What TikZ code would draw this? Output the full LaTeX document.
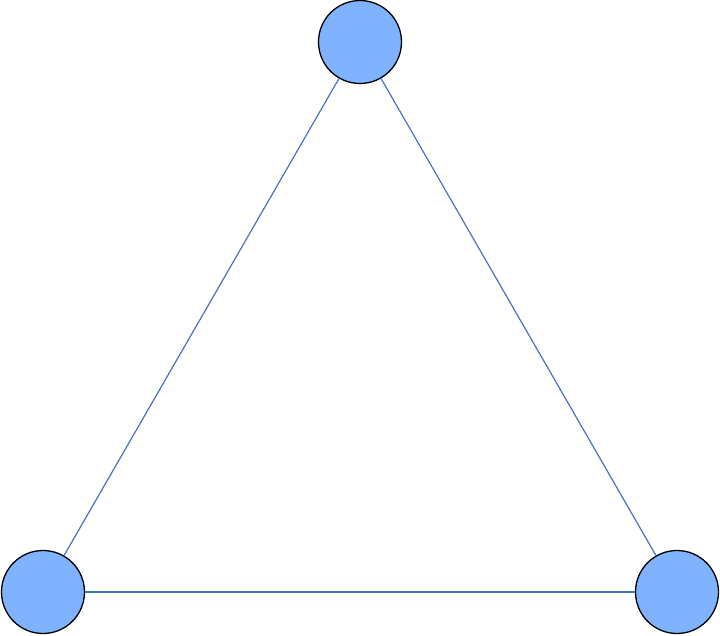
\documentclass[tikz,border=0pt]{standalone}
\usepackage{tikz}
\tikzset{
	vertex/.style={
		draw,
		circle,
		fill=vfill,
		line width=1.3pt,
		inner sep=0pt,
		minimum size=83pt
	},
	edge/.style={line width=1.2pt, ecolor}
}
\definecolor{vfill}{RGB}{128,179,255}
\definecolor{ecolor}{RGB}{68,114,196}

\begin{document}
\begin{tikzpicture}[x=1pt,y=-1pt]
	\useasboundingbox (0,0) rectangle (720,635);
	
	\node(v1) at (360,42) [vertex] {};
	\node(v2) at (43,592) [vertex] {};
	\node(v3) at (677,592) [vertex] {};
	
	\draw[edge](v1) -- (v2);
	\draw[edge](v1) -- (v3);
	\draw[edge](v2) -- (v3);
	
\end{tikzpicture}
\end{document}
